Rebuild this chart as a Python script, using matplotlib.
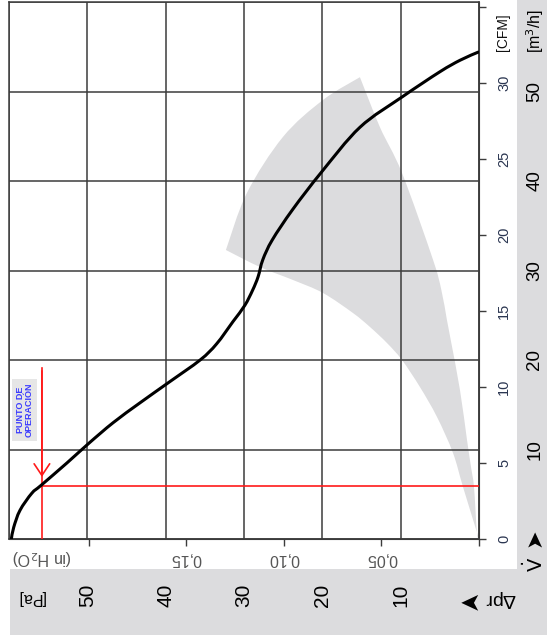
import matplotlib
matplotlib.use("Agg")
import matplotlib.pyplot as plt
from matplotlib.patches import Rectangle, PathPatch
from matplotlib.path import Path
from matplotlib.transforms import blended_transform_factory

plt.rcParams['font.family'] = ['Liberation Sans', 'DejaVu Sans']

# fan curve: flow [m3/h] vs static pressure [Pa]
FLOW = [0, 1.3, 3.2, 5.1, 6.0, 8.5, 10.7, 13.0, 15.2, 17.5, 20.0, 21.8, 24.3,
        26.1, 27.8, 29.3, 31.2, 33.4, 36.8, 41.0, 46.0, 49.4, 52.2, 53.5, 54.4]
PRESSURE = [59.7, 59.4, 58.6, 57.1, 55.9, 52.6, 49.8, 46.7, 43.3, 39.6, 35.6, 33.5, 31.4,
            29.9, 28.9, 28.2, 27.6, 26.4, 23.8, 20.1, 15.2, 9.8, 5.0, 2.4, 0.1]

# grey operating range, three edges (flow / pressure)
OUTER_FLOW = [0.0, 0.67, 5.81, 8.04, 11.06, 16.65, 22.2, 24.5, 27.8, 31.2, 40.9, 46.0, 51.6]
OUTER_PRESSURE = [0.0, 0.26, 0.64, 1.02, 1.53, 2.43, 3.6, 4.1, 4.8, 5.87, 9.83, 12.64, 15.2]
ARC_FLOW = [51.6, 49.05, 44.92, 38.66, 32.29]
ARC_PRESSURE = [15.2, 19.92, 25.03, 29.63, 32.31]
INNER_FLOW = [32.29, 30.39, 28.94, 27.49, 25.25, 23.69, 21.90, 20.0, 16.98, 13.63, 9.61, 5.81, 0.0]
INNER_PRESSURE = [32.31, 27.97, 23.75, 19.92, 16.09, 13.92, 11.75, 9.83, 7.54, 5.36, 3.32, 2.04, 0.0]

OP_FLOW = 5.92
OP_PRESSURE = 55.8
OP_MARK_TOP = 19.1

PA_TICKS = [50, 40, 30, 20, 10]
M3H_TICKS = [10, 20, 30, 40, 50]
CFM_TICKS = [0, 5, 10, 15, 20, 25, 30, 35]
INH2O_TICKS = [0, 0.05, 0.10, 0.15, 0.20]
INH2O_LABELS = ['', '0,05', '0,10', '0,15', '']


def smooth(xs, ys):
    # catmull-rom through the read points, as bezier segments
    pts = list(zip(xs, ys))
    verts, codes = [pts[0]], [Path.MOVETO]
    n = len(pts)
    for i in range(n - 1):
        p0 = pts[max(i - 1, 0)]
        p1, p2 = pts[i], pts[i + 1]
        p3 = pts[min(i + 2, n - 1)]
        c1 = (p1[0] + (p2[0] - p0[0]) / 6, p1[1] + (p2[1] - p0[1]) / 6)
        c2 = (p2[0] - (p3[0] - p1[0]) / 6, p2[1] - (p3[1] - p1[1]) / 6)
        verts += [c1, c2, p2]
        codes += [Path.CURVE4] * 3
    return verts, codes


W, H = 547, 635
fig = plt.figure(figsize=(W / 100, H / 100), dpi=100)

# grey label panels
fig.add_artist(Rectangle((10 / W, 0), 1, (H - 569) / H, transform=fig.transFigure,
                         facecolor='#dcdcde', edgecolor='none', zorder=0))
fig.add_artist(Rectangle((517 / W, 0), 1, 1, transform=fig.transFigure,
                         facecolor='#dcdcde', edgecolor='none', zorder=0))

ax = fig.add_axes([9 / W, 1 - 539 / H, 470 / W, 537 / H])
ax.set_xlim(60, 0)
ax.set_ylim(0, 60)
ax.set_xticks(range(0, 61, 10))
ax.set_yticks(range(0, 61, 10))
ax.tick_params(length=0, labelbottom=False, labelleft=False)
ax.grid(True, color='#3c3c3c', lw=1.1)
for s in ax.spines.values():
    s.set_color('#3c3c3c')
    s.set_linewidth(1.1)

# grey area: pressure on x, flow on y
verts, codes = [], []
for fl, pr in [(OUTER_FLOW, OUTER_PRESSURE), (ARC_FLOW, ARC_PRESSURE), (INNER_FLOW, INNER_PRESSURE)]:
    v, c = smooth(pr, fl)
    if verts:
        v, c = v[1:], c[1:]
    verts += v
    codes += c
verts.append(verts[0])
codes.append(Path.CLOSEPOLY)
ax.add_patch(PathPatch(Path(verts, codes), facecolor='#dcdcde', edgecolor='none', zorder=1))

v, c = smooth(PRESSURE, FLOW)
ax.add_patch(PathPatch(Path(v, c), facecolor='none', edgecolor='black', lw=2.2,
                       capstyle='round', zorder=4))

# operating point
ax.plot([OP_PRESSURE, 0], [OP_FLOW, OP_FLOW], color='#ff1a1a', lw=1.2, zorder=3)
ax.plot([OP_PRESSURE, OP_PRESSURE], [0, OP_MARK_TOP], color='#ff1a1a', lw=1.2, zorder=3)
ax.annotate('', xy=(OP_PRESSURE, OP_FLOW + 0.7), xytext=(OP_PRESSURE, OP_MARK_TOP),
            arrowprops=dict(arrowstyle='->, head_length=0.6, head_width=0.4',
                            color='#ff1a1a', lw=1.2, mutation_scale=14), zorder=3)
ax.text(58.0, 14.4, 'PUNTO DE\nOPERACIÓN', rotation=90, ha='center', va='center',
        color='#3a3aff', fontsize=6.5, fontweight='bold', linespacing=0.95, zorder=5,
        family=['Liberation Sans Narrow', 'Liberation Sans', 'DejaVu Sans'],
        bbox=dict(facecolor='#e6e6e6', edgecolor='none', pad=2.8))

# CFM scale on the right
cfm = ax.secondary_yaxis('right', functions=(lambda q: q / 1.699, lambda q: q * 1.699))
cfm.set_yticks(CFM_TICKS, labels=[str(q) for q in CFM_TICKS[:-1]] + [''])
cfm.tick_params(length=5, width=1, color='#3c3c3c', pad=8, labelsize=10.5,
                labelcolor='#2a3550', labelrotation=90)
for t in cfm.get_yticklabels():
    t.set_va('center')
cfm.spines['right'].set_color('#3c3c3c')
fig.text(503 / W, 1 - 32 / H, '[CFM]', rotation=90, ha='center', va='center',
         fontsize=10, color='#111111')

# in H2O scale at the bottom
inh = ax.secondary_xaxis('bottom', functions=(lambda p: p / 249.09, lambda p: p * 249.09))
inh.set_xticks(INH2O_TICKS, labels=INH2O_LABELS)
inh.tick_params(length=5, width=1, color='#3c3c3c', pad=4, labelsize=11.5,
                labelcolor='#555555', labelrotation=180)
inh.spines['bottom'].set_color('#3c3c3c')
fig.text(42 / W, 1 - 557 / H, '(in H$_2$O)', rotation=180, ha='center', va='center',
         fontsize=11.5, color='#555555')

# Pa labels in the bottom panel
bt = blended_transform_factory(ax.transData, fig.transFigure)
for p in PA_TICKS:
    ax.text(p, 1 - 595 / H, str(p), transform=bt, rotation=90, ha='center', va='center',
            fontsize=15, color='black')
fig.text(31 / W, 1 - 598 / H, '[Pa]', rotation=180, ha='center', va='center',
         fontsize=11.5, color='black')
fig.text(500 / W, 1 - 599 / H, 'Δpr', rotation=180, ha='center', va='center',
         fontsize=14, color='black')
fig.text(466 / W, 1 - 600 / H, '➤', rotation=180, ha='center', va='center',
         fontsize=18, color='black', family=['DejaVu Sans'])

# m3/h labels in the right panel
rt = blended_transform_factory(fig.transFigure, ax.transData)
for q in M3H_TICKS:
    ax.text(535 / W, q, str(q), transform=rt, rotation=90, ha='center', va='center',
            fontsize=13.5, color='black')
fig.text(535 / W, 1 - 31 / H, '[m$^3$/h]', rotation=90, ha='center', va='center',
         fontsize=11.5, color='black')
fig.text(534 / W, 1 - 538 / H, '➤', rotation=90, ha='center', va='center',
         fontsize=16, color='black', family=['DejaVu Sans'])
fig.text(535 / W, 1 - 564 / H, r'$\dot{\mathrm{V}}$', rotation=90, ha='center', va='center',
         fontsize=14, color='black')

fig.savefig('out.png', dpi=100)
